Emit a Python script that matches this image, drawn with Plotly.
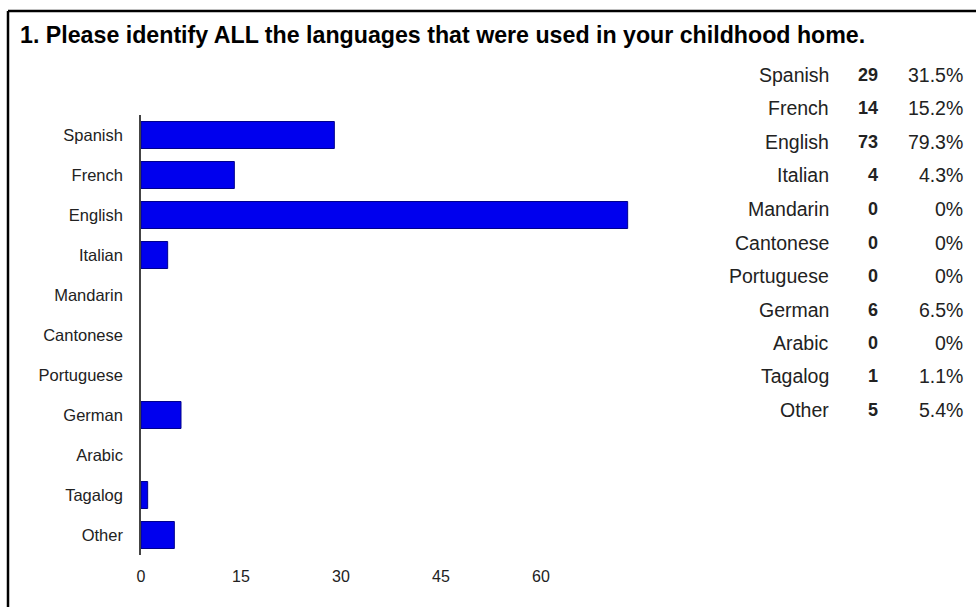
import plotly.graph_objects as go

languages = ["Spanish", "French", "English", "Italian", "Mandarin", "Cantonese",
             "Portuguese", "German", "Arabic", "Tagalog", "Other"]
counts = [29, 14, 73, 4, 0, 0, 0, 6, 0, 1, 5]
percents = ["31.5%", "15.2%", "79.3%", "4.3%", "0%", "0%", "0%", "6.5%", "0%", "1.1%", "5.4%"]
x_ticks = [0, 15, 30, 45, 60]
title_text = "1. Please identify ALL the languages that were used in your childhood home."

W, H = 976, 607
L, R, T, B = 141, 641, 115, 555  # plot area in pixels
FONT = "Liberation Sans, Arial, Helvetica, sans-serif"

def px_x(px):
    return (px - L) / (R - L)

def px_y(py):
    return (B - py) / (B - T)

fig = go.Figure()
fig.add_trace(go.Bar(
    y=languages, x=counts, orientation="h",
    marker=dict(color="#0000ee",
                line=dict(color="#00008b", width=[1 if c > 0 else 0 for c in counts])),
    hoverinfo="x+y",
))

annotations = []
row0, step = 75, 33.5
for i, (lang, c, p) in enumerate(zip(languages, counts, percents)):
    py = row0 + i * step
    annotations.append(dict(text=lang, x=px_x(831), y=px_y(py), xref="paper", yref="paper",
                            xanchor="right", yanchor="middle", showarrow=False,
                            font=dict(family=FONT, size=19.5, color="#222")))
    annotations.append(dict(text="<b>%d</b>" % c, x=px_x(880), y=px_y(py), xref="paper", yref="paper",
                            xanchor="right", yanchor="middle", showarrow=False,
                            font=dict(family=FONT, size=18, color="#222")))
    annotations.append(dict(text=p, x=px_x(965), y=px_y(py), xref="paper", yref="paper",
                            xanchor="right", yanchor="middle", showarrow=False,
                            font=dict(family=FONT, size=19.5, color="#222")))

shapes = [
    dict(type="line", xref="paper", yref="paper", x0=px_x(8), x1=px_x(8), y0=px_y(11), y1=px_y(620),
         line=dict(color="black", width=2.5)),
    dict(type="line", xref="paper", yref="paper", x0=px_x(8), x1=px_x(990), y0=px_y(11), y1=px_y(11),
         line=dict(color="black", width=2.5)),
]

fig.update_layout(
    width=W, height=H,
    margin=dict(l=L, r=W - R, t=T, b=H - B, pad=0),
    paper_bgcolor="white", plot_bgcolor="white",
    showlegend=False,
    bargap=0.325,
    title=dict(text="<b>" + title_text + "</b>", x=20 / W, xanchor="left",
               y=1 - 35 / H, yanchor="middle", xref="container", yref="container",
               font=dict(family=FONT, size=23.2, color="black")),
    xaxis=dict(range=[0, 75], tickvals=x_ticks, showgrid=False, zeroline=False,
               showline=False, ticks="", tickfont=dict(family=FONT, size=16, color="#222"),
               ticklabelstandoff=10),
    yaxis=dict(autorange="reversed", showgrid=False, zeroline=False, showline=True,
               linecolor="#444", linewidth=1.5, ticks="",
               tickfont=dict(family=FONT, size=16.5, color="#222"), ticklabelstandoff=13),
    annotations=annotations,
    shapes=shapes,
)

fig.write_html("out.html", config={"displayModeBar": False},
               post_script="document.body.style.margin='0';document.body.style.overflow='hidden';")
